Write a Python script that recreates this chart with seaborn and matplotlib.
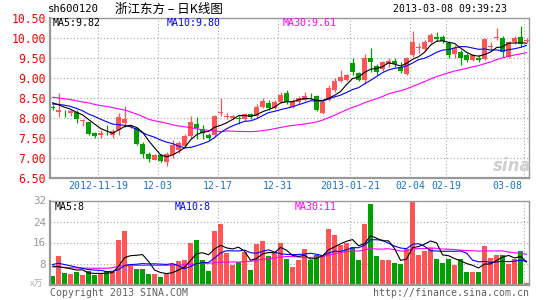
import numpy as np
import pandas as pd
import matplotlib
matplotlib.use("Agg")
import matplotlib.pyplot as plt
import matplotlib.transforms as mtransforms
import seaborn as sns

# ---------------- data ----------------
open_ = [8.27, 8.15, 8.13, 8.12, 8.14, 7.92, 7.89, 7.62, 7.58, 7.65,
         7.58, 7.70, 7.87, 7.77, 7.75, 7.36, 7.10, 6.96, 7.08, 6.89,
         7.07, 7.20, 7.30, 7.56, 7.85, 7.72, 7.58, 7.57, 8.12, 8.03,
         8.00, 8.00, 7.98, 8.09, 8.05, 8.28, 8.37, 8.26, 8.41, 8.62,
         8.28, 8.39, 8.45, 8.56, 8.55, 8.12, 8.45, 8.70, 8.92, 8.95,
         9.38, 9.12, 8.95, 9.49, 9.31, 9.22, 9.34, 9.43, 9.28, 9.10,
         9.58, 9.74, 9.73, 9.91, 10.03, 10.03, 9.88, 9.59, 9.66, 9.57,
         9.45, 9.51, 9.48, 9.77, 10.00, 10.01, 9.53, 9.89, 10.03, 9.93]
high = [8.33, 8.62, 8.19, 8.20, 8.20, 7.98, 7.91, 7.66, 7.70, 7.82,
        7.72, 8.13, 8.30, 7.82, 7.77, 7.40, 7.15, 7.11, 7.11, 7.15,
        7.45, 7.43, 7.60, 8.05, 8.02, 7.82, 7.62, 8.08, 8.50, 8.13,
        8.08, 8.05, 8.13, 8.13, 8.34, 8.50, 8.45, 8.45, 8.66, 8.70,
        8.47, 8.55, 8.66, 8.62, 8.58, 8.44, 8.82, 8.99, 9.20, 9.10,
        9.49, 9.15, 9.59, 9.76, 9.34, 9.42, 9.49, 9.49, 9.40, 9.52,
        10.17, 9.87, 9.95, 10.12, 10.16, 10.07, 9.93, 9.82, 9.70, 9.62,
        9.60, 9.58, 10.00, 9.90, 10.24, 10.04, 9.93, 10.05, 10.30, 9.99]
low = [8.19, 8.03, 8.03, 8.05, 7.88, 7.81, 7.57, 7.50, 7.51, 7.57,
       7.49, 7.57, 7.78, 7.74, 7.33, 7.00, 6.91, 6.94, 6.90, 6.80,
       7.00, 7.12, 7.24, 7.50, 7.47, 7.47, 7.45, 7.53, 8.05, 7.97,
       7.95, 7.85, 7.93, 7.98, 8.00, 8.24, 8.20, 8.22, 8.38, 8.36,
       8.24, 8.35, 8.42, 8.47, 8.17, 8.09, 8.42, 8.66, 8.90, 8.92,
       9.07, 8.93, 8.84, 9.14, 9.07, 9.18, 9.28, 9.28, 9.12, 9.08,
       9.53, 9.62, 9.68, 9.87, 9.93, 9.87, 9.49, 9.49, 9.33, 9.41,
       9.42, 9.41, 9.45, 9.70, 9.95, 9.53, 9.50, 9.85, 9.78, 9.88]
close = [8.26, 8.19, 8.12, 8.17, 7.97, 7.95, 7.60, 7.56, 7.62, 7.64,
         7.67, 8.02, 7.98, 7.79, 7.35, 7.09, 6.97, 7.07, 6.92, 7.10,
         7.32, 7.38, 7.55, 7.91, 7.75, 7.62, 7.50, 8.06, 8.15, 8.06,
         8.05, 7.97, 8.09, 8.03, 8.27, 8.42, 8.24, 8.39, 8.57, 8.41,
         8.42, 8.49, 8.55, 8.54, 8.20, 8.41, 8.76, 8.92, 9.02, 9.07,
         9.16, 8.95, 9.51, 9.41, 9.16, 9.39, 9.43, 9.34, 9.18, 9.49,
         9.89, 9.77, 9.89, 10.07, 9.98, 9.93, 9.58, 9.76, 9.49, 9.45,
         9.57, 9.46, 9.97, 9.79, 10.02, 9.66, 9.91, 9.99, 9.84, 9.95]
volume = [3.4, 11.0, 4.4, 4.0, 4.8, 3.6, 5.2, 3.6, 3.9, 5.2,
          4.7, 17.1, 20.2, 7.7, 6.0, 6.0, 4.0, 3.9, 2.9, 4.0,
          7.7, 9.1, 9.2, 15.7, 17.1, 9.4, 5.2, 20.2, 22.9, 12.0,
          7.5, 8.5, 12.5, 5.7, 15.3, 16.4, 11.0, 12.0, 16.0, 9.8,
          6.6, 9.2, 13.7, 9.2, 11.2, 11.2, 21.0, 19.0, 15.2, 16.0,
          14.4, 9.2, 22.9, 30.6, 11.0, 9.4, 9.2, 8.3, 8.0, 13.4,
          31.3, 11.3, 12.9, 14.0, 9.8, 8.3, 9.8, 7.5, 9.6, 4.8,
          4.8, 4.8, 14.8, 10.0, 11.3, 11.3, 8.0, 9.9, 12.9, 0.5]

# moving-average values before a full window is available
ma5_head = [8.38, 8.33, 8.27, 8.22]
ma10_head = [8.35, 8.34, 8.32, 8.29, 8.24, 8.18, 8.10, 8.04, 7.97]
ma30_head = [8.52, 8.50, 8.48, 8.46, 8.43, 8.40, 8.38, 8.34, 8.31, 8.29,
             8.26, 8.23, 8.20, 8.15, 8.10, 8.04, 7.97, 7.93, 7.90, 7.87,
             7.83, 7.80, 7.78, 7.76, 7.73, 7.71, 7.69, 7.675, 7.66]
vma5_head = [7.0, 6.8, 6.4, 6.0]
vma10_head = [7.6, 8.1, 7.6, 7.1, 6.6, 6.1, 5.7, 5.5, 5.4]
vma30_head = [6.7, 6.6, 6.5, 6.4, 6.3, 6.3, 6.2, 6.2, 6.2, 6.2,
              6.4, 6.9, 7.3, 7.3, 7.3, 7.3, 7.3, 7.3, 7.3, 7.3,
              7.4, 7.4, 7.5, 7.7, 7.9, 8.0, 8.1, 8.3, 8.5]

# legend values printed on the chart
price_ma_text = ["MA5:9.82", "MA10:9.80", "MA30:9.61"]
vol_ma_text = ["MA5:8", "MA10:8", "MA30:11"]

tick_idx = [8, 18, 28, 38, 50, 60, 66, 79]
tick_labels = ["2012-11-19", "12-03", "12-17", "12-31", "2013-01-21",
               "02-04", "02-19", "03-08"]
price_ticks = [6.50, 7.00, 7.50, 8.00, 8.50, 9.00, 9.50, 10.00, 10.50]
vol_ticks = [8, 16, 24, 32]

# ---------------- style ----------------
sns.set_style("white")
plt.rcParams["font.family"] = ["DejaVu Sans Mono", "Noto Sans CJK SC", "DejaVu Sans"]

RED = "#ff5555"
GREEN = "#00a000"
GRID = "#a8a8a8"
SPINE = "#999999"
BLUE_TXT = "#1874cd"
LW = 0.8

W, H = 545, 300
fig = plt.figure(figsize=(W / 100, H / 100), dpi=100)
fig.patch.set_facecolor("white")


def T(px, py, s, **kw):
    fig.text(px / W, 1 - py / H, s, **kw)


ax = fig.add_axes([50 / W, 1 - 178 / H, 479 / W, 160 / H])
axv = fig.add_axes([50 / W, 1 - 284.5 / H, 479 / W, 84 / H])

o = np.array(open_)
h = np.array(high)
l = np.array(low)
c = np.array(close)
v = np.array(volume)
n = len(c)
x = np.arange(n)
colors = np.where(c >= o, RED, GREEN)


def moving(arr, win, head):
    m = pd.Series(arr).rolling(win).mean().to_numpy()
    m[:len(head)] = head
    return m


ma5 = moving(c, 5, ma5_head)
ma10 = moving(c, 10, ma10_head)
ma30 = moving(c, 30, ma30_head)
vma5 = moving(v, 5, vma5_head)
vma10 = moving(v, 10, vma10_head)
vma30 = moving(v, 30, vma30_head)

xlim = (-0.42, 79.4)
grid_x = [t - 0.4 for t in tick_idx]

for a in (ax, axv):
    a.set_xlim(*xlim)
    a.set_xticks(grid_x)
    a.set_xticklabels([])
    a.tick_params(length=0, pad=3)
    a.grid(True, color=GRID, linestyle=(0, (1, 2)), linewidth=0.8)
    a.set_axisbelow(True)
    for s in a.spines.values():
        s.set_color(SPINE)
        s.set_linewidth(1.0)
    a.spines["left"].set_linewidth(1.6)
    a.spines["bottom"].set_linewidth(1.6)

# ---- price panel ----
ax.set_ylim(6.5, 10.5)
ax.set_yticks(price_ticks)
ax.set_yticklabels([f"{t:.2f}" for t in price_ticks], color="#ff0000", fontsize=8.3)
ax.vlines(x, l, h, colors=colors, linewidth=0.9, zorder=2)
body_bottom = np.minimum(o, c)
body_h = np.maximum(np.abs(c - o), 0.012)
ax.bar(x, body_h, bottom=body_bottom, width=0.82, color=colors, linewidth=0, zorder=2)
sns.lineplot(x=x, y=ma30, ax=ax, color="#ff00ff", linewidth=LW, zorder=3)
sns.lineplot(x=x, y=ma10, ax=ax, color="#0000ff", linewidth=LW, zorder=3)
sns.lineplot(x=x, y=ma5, ax=ax, color="black", linewidth=LW, zorder=4)
ax.set_xlabel("")
ax.set_ylabel("")

# ---- volume panel ----
axv.set_ylim(0, 32)
axv.set_yticks(vol_ticks)
axv.set_yticklabels([str(t) for t in vol_ticks], color="#999999", fontsize=7.8)
axv.bar(x, v, width=0.82, color=colors, linewidth=0, zorder=2)
sns.lineplot(x=x, y=vma30, ax=axv, color="#ff00ff", linewidth=LW, zorder=3)
sns.lineplot(x=x, y=vma10, ax=axv, color="#0000ff", linewidth=LW, zorder=3)
sns.lineplot(x=x, y=vma5, ax=axv, color="black", linewidth=LW, zorder=4)
axv.set_xlabel("")
axv.set_ylabel("")

# ---- texts ----
T(48, 9, "sh600120", fontsize=7.6, color="black", va="center", ha="left")
T(115, 9, "浙江东方 – 日K线图", fontsize=9,
  family=["Noto Sans CJK SC", "DejaVu Sans"], color="black", va="center", ha="left")
T(507, 9, "2013-03-08 09:39:23", fontsize=7.1, color="black", va="center", ha="right")

ma_colors = ["black", "#0000ff", "#ff00ff"]
for px, s, col in zip([53, 167, 283], price_ma_text, ma_colors):
    T(px, 23, s, fontsize=7.1, color=col, va="center")
for px, s, col in zip([55, 175, 295], vol_ma_text, ma_colors):
    T(px, 207, s, fontsize=7.1, color=col, va="center")

trans = mtransforms.blended_transform_factory(ax.transData, fig.transFigure)
for i, (t, lab) in enumerate(zip(tick_idx, tick_labels)):
    if i == len(tick_idx) - 1:
        ax.text(t - 0.7, 1 - 186 / H, lab, transform=trans, ha="right", va="center",
                fontsize=7.1, color=BLUE_TXT, clip_on=False)
    else:
        ax.text(t - 0.45, 1 - 186 / H, lab, transform=trans, ha="center", va="center",
                fontsize=7.1, color=BLUE_TXT, clip_on=False)

T(37, 284, "x万", fontsize=6.5, color="#b0b0b0", va="center", ha="center",
  family=["Noto Sans CJK SC", "DejaVu Sans"])
T(50, 293, "Copyright 2013 SINA.COM", fontsize=7.1, color="#606060", va="center", ha="left")
T(529, 293, "http://finance.sina.com.cn", fontsize=7.1, color="#606060", va="center", ha="right")

# sina watermark
T(512, 166, "sina", fontsize=12, color="#cfcfcf", style="italic", weight="bold",
  family=["DejaVu Sans"], va="center", ha="center")

fig.savefig("out.png", dpi=100, facecolor="white")
